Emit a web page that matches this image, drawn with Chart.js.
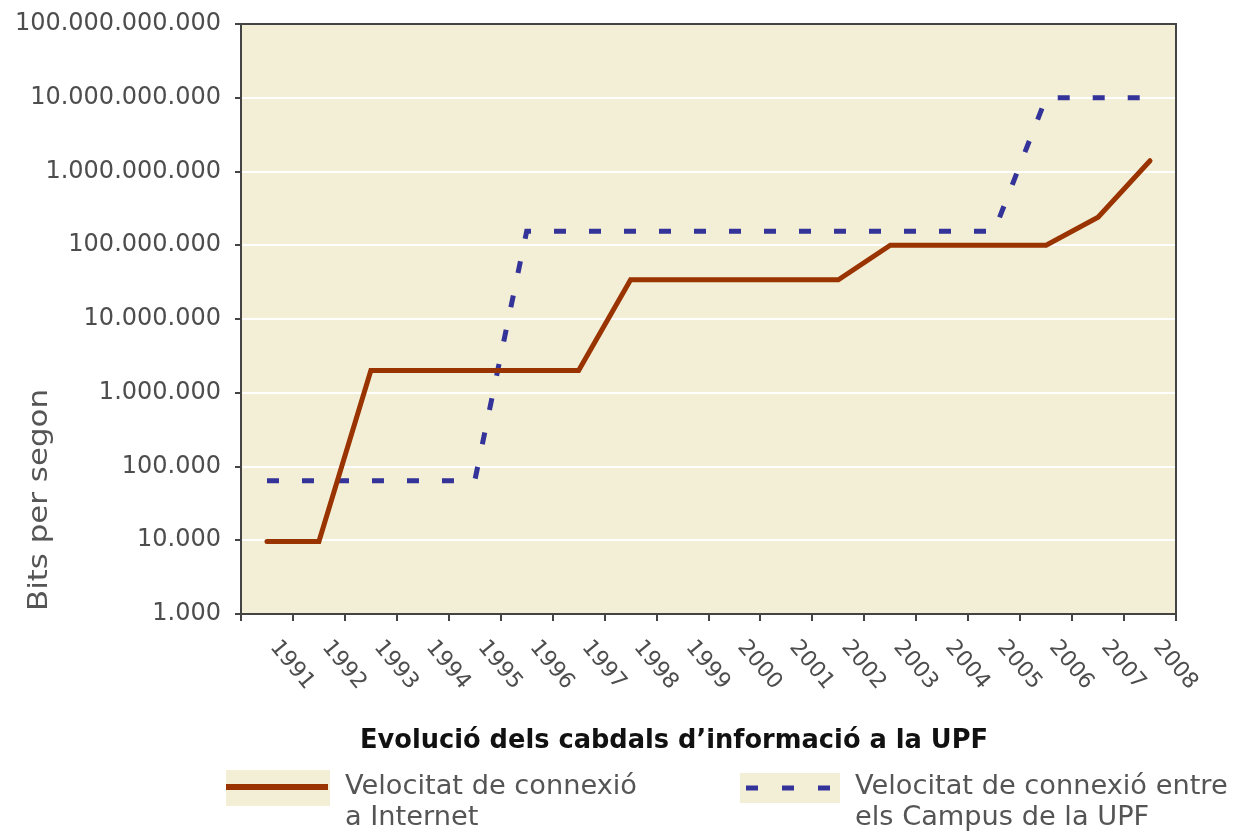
<!DOCTYPE html>
<html><head><meta charset="utf-8">
<script src="https://cdn.jsdelivr.net/npm/chart.js@4/dist/chart.umd.min.js"></script>
<style>html,body{margin:0;padding:0;background:#fff;} canvas{display:block;}</style>
</head><body>
<canvas id="c" width="1233" height="832"></canvas>
<script>
const years = ['1991','1992','1993','1994','1995','1996','1997','1998','1999','2000','2001','2002','2003','2004','2005','2006','2007','2008'];
const internetSpeed = [9600,9600,2000000,2000000,2000000,2000000,2000000,34000000,34000000,34000000,34000000,34000000,100000000,100000000,100000000,100000000,240000000,1400000000];
const campusSpeed = [64000,64000,64000,64000,64000,155000000,155000000,155000000,155000000,155000000,155000000,155000000,155000000,155000000,155000000,10000000000,10000000000,10000000000];
const yTicks = [1e3,1e4,1e5,1e6,1e7,1e8,1e9,1e10,1e11];
const seriesNames = [['Velocitat de connexió','a Internet'],['Velocitat de connexió entre','els Campus de la UPF']];
const chartTitle = 'Evolució dels cabdals d\u2019informació a la UPF';
const yTitle = 'Bits per segon';

const RED = '#993300', BLUE = '#333399', BEIGE = '#f3efd6', AXIS = '#444444', TXT = '#4d4d4d';

function fmt(v){ return Math.round(v).toString().replace(/\B(?=(\d{3})+(?!\d))/g,'.'); }

const deco = {
  id:'deco',
  beforeDraw(chart){
    const {ctx, chartArea:a} = chart;
    ctx.save();
    ctx.fillStyle='#fff'; ctx.fillRect(0,0,chart.width,chart.height);
    ctx.fillStyle=BEIGE; ctx.fillRect(a.left,a.top,a.right-a.left,a.bottom-a.top);
    ctx.restore();
  },
  afterDraw(chart){
    const {ctx, chartArea:a} = chart;
    const xs = chart.scales.x;
    ctx.save();
    ctx.strokeStyle=AXIS; ctx.lineWidth=2;
    ctx.strokeRect(a.left,a.top,a.right-a.left,a.bottom-a.top);
    // x labels rotated clockwise
    ctx.fillStyle=TXT; ctx.font='22px "DejaVu Sans"';
    ctx.textAlign='center'; ctx.textBaseline='middle';
    years.forEach((y,i)=>{
      const px = xs.getPixelForValue(i)+25;
      ctx.save(); ctx.translate(px, a.bottom+51); ctx.rotate(50*Math.PI/180);
      ctx.fillText(y,0,0); ctx.restore();
    });
    // y title
    ctx.save();
    ctx.font='27px "DejaVu Sans"'; ctx.fillStyle='#555';
    ctx.translate(40, 500); ctx.rotate(-Math.PI/2);
    ctx.textAlign='center'; ctx.textBaseline='middle';
    const tw = ctx.measureText(yTitle).width;
    ctx.scale(222/tw,1);
    ctx.fillText(yTitle,0,0);
    ctx.restore();
    // chart title
    ctx.save();
    ctx.font='bold 26px "DejaVu Sans"'; ctx.fillStyle='#111';
    ctx.textAlign='center'; ctx.textBaseline='middle';
    const w = ctx.measureText(chartTitle).width;
    ctx.translate(674, 741); ctx.scale(628/w,1);
    ctx.fillText(chartTitle,0,0);
    ctx.restore();
    // legend
    ctx.fillStyle=BEIGE;
    ctx.fillRect(226,770,104,36);
    ctx.fillRect(740,773,100,30);
    ctx.strokeStyle=RED; ctx.lineWidth=6; ctx.setLineDash([]);
    ctx.beginPath(); ctx.moveTo(226,787); ctx.lineTo(328,787); ctx.stroke();
    ctx.strokeStyle=BLUE; ctx.lineWidth=5; ctx.setLineDash([12,24]);
    ctx.beginPath(); ctx.moveTo(746,788); ctx.lineTo(840,788); ctx.stroke();
    ctx.setLineDash([]);
    ctx.font='26px "DejaVu Sans"'; ctx.fillStyle='#555';
    ctx.textAlign='left'; ctx.textBaseline='middle';
    const lw = ctx.measureText(seriesNames[0][0]).width;
    const sx = 292/lw;
    [[345,seriesNames[0]],[855,seriesNames[1]]].forEach(([x,lines])=>{
      lines.forEach((t,j)=>{
        ctx.save(); ctx.translate(x, 787+j*31); ctx.scale(sx,1); ctx.fillText(t,0,0); ctx.restore();
      });
    });
    ctx.restore();
  }
};

new Chart(document.getElementById('c'), {
  type:'line',
  data:{
    labels: years,
    datasets:[
      {label:seriesNames[0].join(' '), data:internetSpeed, borderColor:RED, backgroundColor:RED, borderWidth:5, pointRadius:0, tension:0, fill:false, borderCapStyle:'round'},
      {label:seriesNames[1].join(' '), data:campusSpeed, borderColor:BLUE, backgroundColor:BLUE, borderWidth:5, pointRadius:0, tension:0, fill:false, borderDash:[12,23], borderCapStyle:'butt'}
    ]
  },
  options:{
    responsive:false, animation:false, devicePixelRatio:1,
    layout:{padding:{left:0,top:24,right:57,bottom:0}},
    plugins:{legend:{display:false}, tooltip:{enabled:false}, title:{display:false}},
    scales:{
      x:{type:'category', offset:true,
        grid:{offset:true, drawOnChartArea:false, drawTicks:true, tickLength:7, tickColor:AXIS, color:AXIS, lineWidth:2},
        border:{display:true, color:AXIS, width:2},
        ticks:{display:false},
        afterFit(s){ s.height = 218; s.paddingLeft = 0; s.paddingRight = 0; }
      },
      y:{type:'logarithmic', min:1e3, max:1e11,
        afterBuildTicks(s){ s.ticks = yTicks.map(v=>({value:v})); },
        ticks:{autoSkip:false, callback:(v)=>fmt(v), font:{family:'DejaVu Sans', size:24}, color:TXT, padding:14},
        grid:{color:'#ffffff', lineWidth:2, tickColor:AXIS, tickLength:6, drawTicks:true},
        border:{display:true, color:AXIS, width:2},
        afterFit(s){ s.width = 241; s.paddingTop = 0; s.paddingBottom = 0; }
      }
    }
  },
  plugins:[deco]
});
</script>
</body></html>
